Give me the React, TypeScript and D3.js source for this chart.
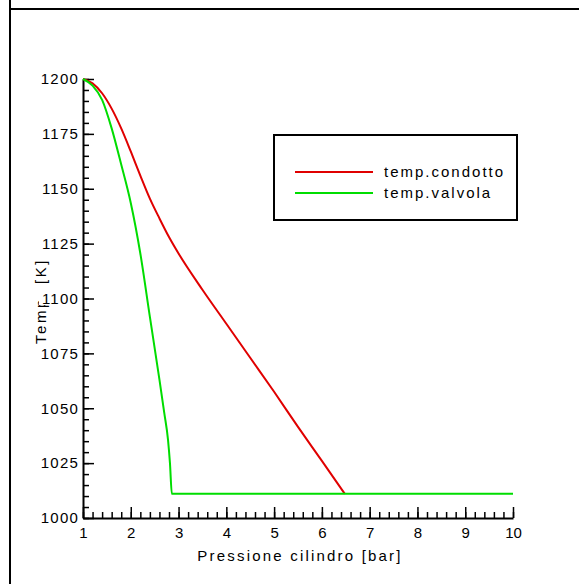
import React, { useEffect, useRef } from 'react';
import * as d3 from 'd3';

// pressure [bar] vs temperature [K]
const condottoP = [1, 1.2, 1.4, 1.6, 1.8, 2.0, 2.2, 2.4, 2.6, 2.8, 3.0, 3.5, 4.0, 4.5, 5.0, 5.5, 6.0, 6.48];
const condottoT = [1200, 1198, 1193.5, 1186.5, 1177.5, 1167, 1156, 1145.5, 1136.5, 1128, 1120.5, 1104, 1088.5, 1073, 1057.5, 1041.5, 1026, 1011];

const valvolaP = [1, 1.2, 1.4, 1.6, 1.8, 2.0, 2.2, 2.4, 2.6, 2.7, 2.78, 2.82, 2.86, 10];
const valvolaT = [1200, 1197, 1190.5, 1177.5, 1161, 1143.5, 1120.5, 1091.6, 1063, 1048, 1035.5, 1025, 1011, 1011];

const seriesNames = ['temp.condotto', 'temp.valvola'];
const seriesColors = ['#e00000', '#00dd00'];

const xTicks = [1, 2, 3, 4, 5, 6, 7, 8, 9, 10];
const yTicks = [1000, 1025, 1050, 1075, 1100, 1125, 1150, 1175, 1200];

const App = () => {
  const ref = useRef<SVGSVGElement>(null);

  useEffect(() => {
    const width = 579;
    const height = 584;
    const margin = { top: 79, right: 66, bottom: 66, left: 83 };
    const font = 'Liberation Sans, Arial, sans-serif';

    const svg = d3.select(ref.current)
      .attr('width', width)
      .attr('height', height);
    svg.selectAll('*').remove();

    svg.append('rect').attr('width', width).attr('height', height).attr('fill', '#fff');

    // frame lines of the page
    svg.append('line')
      .attr('x1', 10).attr('x2', 10).attr('y1', 0).attr('y2', height)
      .attr('stroke', '#000').attr('stroke-width', 2);
    svg.append('line')
      .attr('x1', 9).attr('x2', width).attr('y1', 9).attr('y2', 9)
      .attr('stroke', '#000').attr('stroke-width', 2);

    const x = d3.scaleLinear().domain([1, 10]).range([margin.left, width - margin.right]);
    const y = d3.scaleLinear().domain([1000, 1200]).range([height - margin.bottom, margin.top]);

    // y axis title (partly hidden behind tick labels like the original)
    svg.append('text')
      .attr('transform', `translate(46, 301) rotate(-90)`)
      .attr('text-anchor', 'middle')
      .attr('font-family', font)
      .attr('font-size', 15)
      .attr('letter-spacing', 2.5)
      .text('Temp. [K]');

    // minor ticks
    svg.append('g')
      .attr('transform', `translate(${margin.left},0)`)
      .call(d3.axisLeft(y).tickValues(d3.range(1000, 1201, 5)).tickSize(-6).tickFormat(() => ''))
      .call(g => g.select('.domain').remove());
    svg.append('g')
      .attr('transform', `translate(0,${height - margin.bottom})`)
      .call(d3.axisBottom(x).tickValues(d3.range(10, 101, 2).map(d => d / 10)).tickSize(-6).tickFormat(() => ''))
      .call(g => g.select('.domain').remove());

    // major ticks + labels
    const yAxis = svg.append('g')
      .attr('transform', `translate(${margin.left},0)`)
      .call(d3.axisLeft(y).tickValues(yTicks).tickSizeInner(-11).tickSizeOuter(0).tickPadding(4).tickFormat(d3.format('d')));
    yAxis.selectAll('text')
      .attr('font-family', font)
      .attr('font-size', 15)
      .attr('letter-spacing', 1.2)
      .attr('fill', '#000');
    // white backing behind the tick labels
    yAxis.selectAll('.tick').insert('rect', 'text')
      .attr('x', -44).attr('y', -6).attr('width', 38).attr('height', 12)
      .attr('fill', '#fff');

    const xAxis = svg.append('g')
      .attr('transform', `translate(0,${height - margin.bottom})`)
      .call(d3.axisBottom(x).tickValues(xTicks).tickSizeInner(-11).tickSizeOuter(0).tickPadding(9).tickFormat(d3.format('d')));
    xAxis.selectAll('text')
      .attr('font-family', font)
      .attr('font-size', 15)
      .attr('fill', '#000');

    svg.selectAll('.domain').attr('stroke-width', 2);
    svg.selectAll('.tick line').attr('stroke-width', 1.5);

    svg.append('text')
      .attr('x', (x(1) + x(10)) / 2 + 2)
      .attr('y', 561)
      .attr('text-anchor', 'middle')
      .attr('font-family', font)
      .attr('font-size', 15)
      .attr('letter-spacing', 2.2)
      .text('Pressione cilindro [bar]');

    // curves
    const line = d3.line<[number, number]>()
      .x(d => x(d[0]))
      .y(d => y(d[1]))
      .curve(d3.curveMonotoneX);

    const series: [number, number][][] = [
      condottoP.map((p, i) => [p, condottoT[i]]),
      valvolaP.map((p, i) => [p, valvolaT[i]]),
    ];

    series.forEach((s, i) => {
      svg.append('path')
        .datum(s)
        .attr('d', line)
        .attr('fill', 'none')
        .attr('stroke', seriesColors[i])
        .attr('stroke-width', 2);
    });

    // legend
    const legend = svg.append('g').attr('transform', 'translate(274,135)');
    legend.append('rect')
      .attr('width', 243).attr('height', 85)
      .attr('fill', '#fff').attr('stroke', '#000').attr('stroke-width', 2);
    seriesNames.forEach((name, i) => {
      const ly = 37 + i * 21;
      legend.append('line')
        .attr('x1', 21).attr('x2', 99).attr('y1', ly).attr('y2', ly)
        .attr('stroke', seriesColors[i]).attr('stroke-width', 2);
      legend.append('text')
        .attr('x', 110).attr('y', ly + 5)
        .attr('font-family', font)
        .attr('font-size', 15)
        .attr('letter-spacing', 2)
        .text(name);
    });
  }, []);

  return <svg ref={ref} style={{ position: 'absolute', left: 0, top: 0 }}></svg>;
};

export default App;
